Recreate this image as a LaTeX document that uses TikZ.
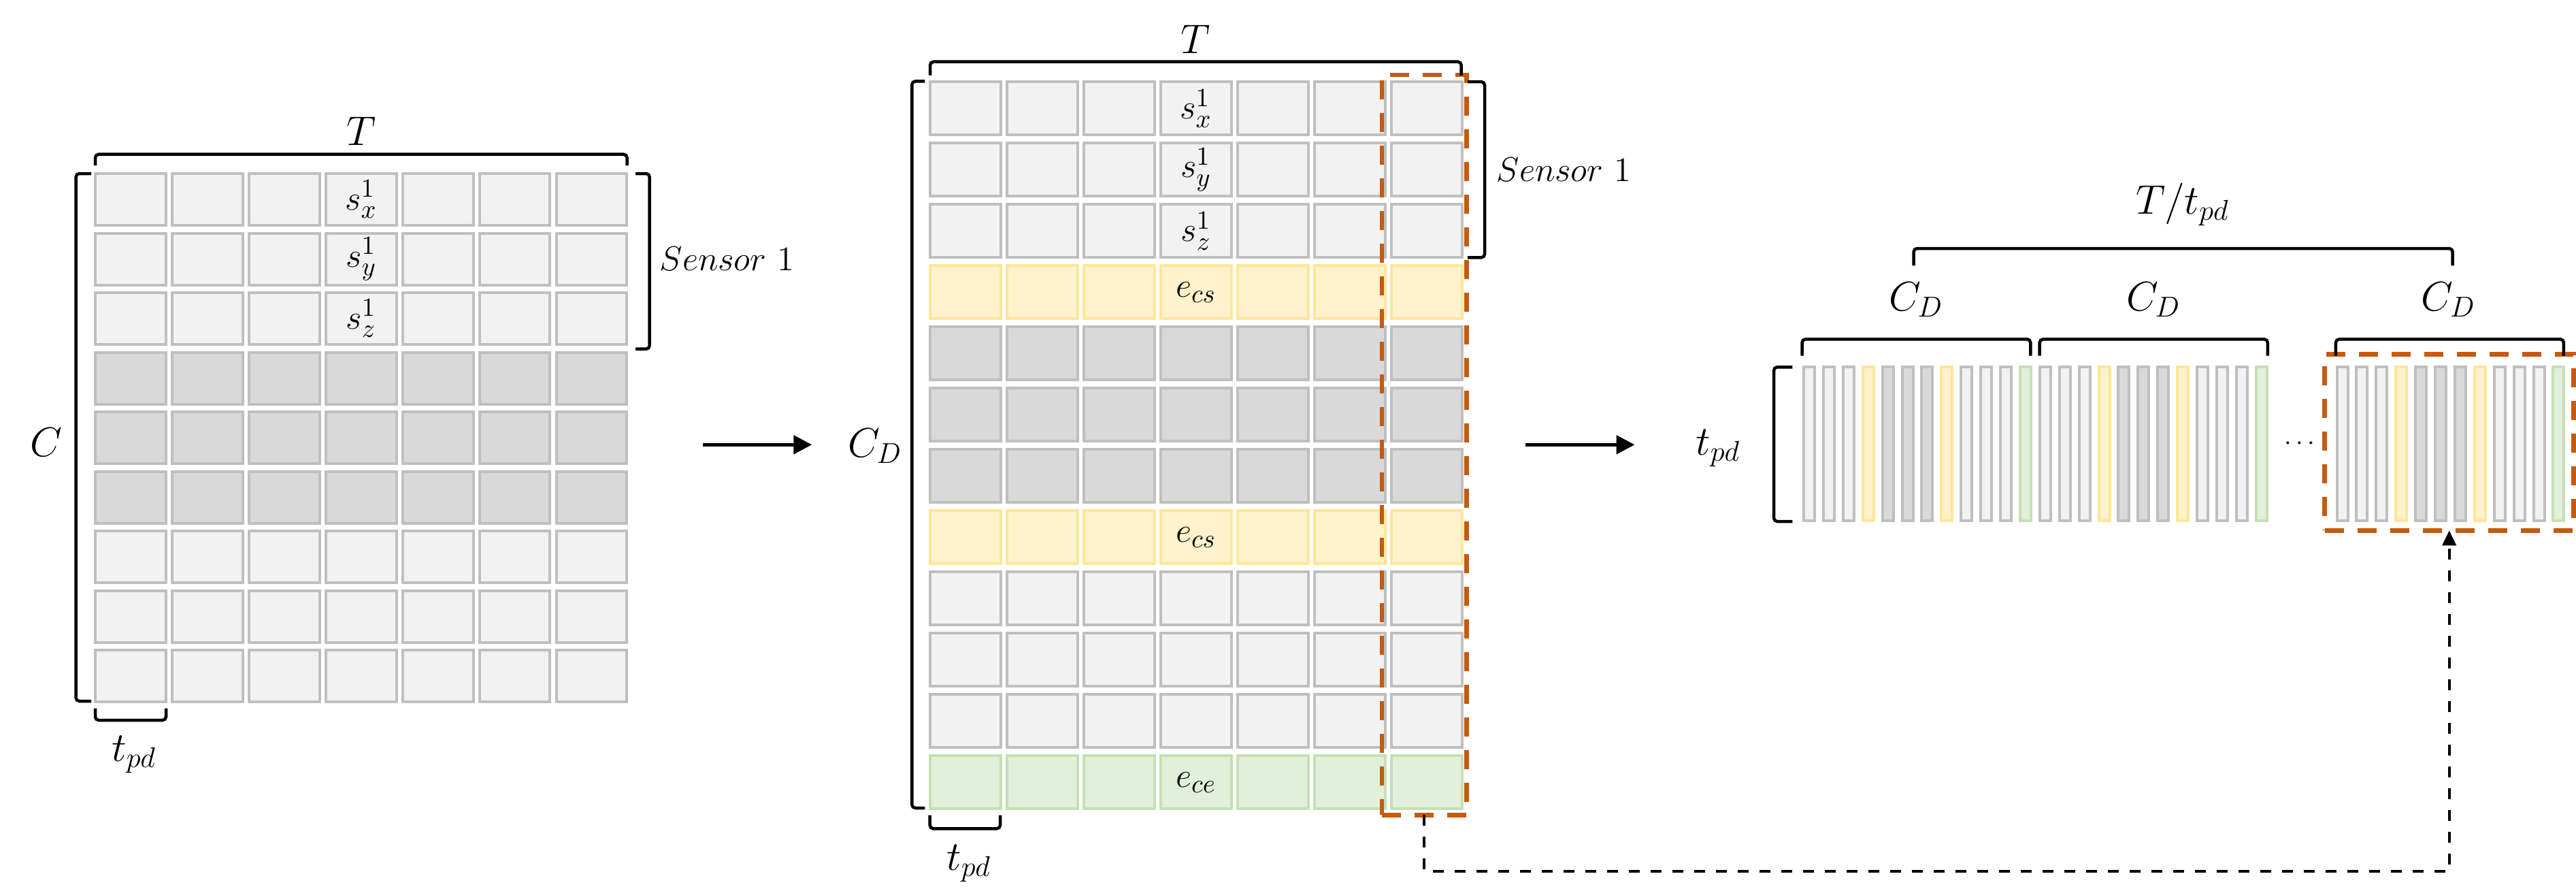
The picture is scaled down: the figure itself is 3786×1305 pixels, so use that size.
\documentclass[tikz,border=0pt]{standalone}
\usepackage{amsmath}
\usepackage{tikz}
\usetikzlibrary{arrows.meta}
\definecolor{edgegray}{HTML}{BFBFBF}
\definecolor{lightgray}{HTML}{F2F2F2}
\definecolor{darkgray}{HTML}{D9D9D9}
\definecolor{yelfill}{HTML}{FFF2CC}
\definecolor{yeledge}{HTML}{FFE699}
\definecolor{grnfill}{HTML}{E2EFDA}
\definecolor{grnedge}{HTML}{C5E0B4}
\definecolor{selorange}{HTML}{C55A11}
\tikzstyle{arrow} = [line width=0.53mm,-{Triangle[length=2.7mm,width=2.7mm]}]
\tikzstyle{link} = [line width=0.4mm,dash pattern=on 1.6mm off 1.6mm,-{Triangle[length=2.2mm,width=2mm]}]
\tikzstyle{brk} = [line width=0.45mm,rounded corners=0.5mm]
\tikzset{cell/.style={draw, line width=0.4mm, inner sep=0pt, outer sep=0pt},
  clight/.style={draw=edgegray, fill=lightgray},
  cdark/.style={draw=edgegray, fill=darkgray},
  cyel/.style={draw=yeledge, fill=yelfill},
  cgrn/.style={draw=grnedge, fill=grnfill},
  selbox/.style={draw=selorange, line width=0.65mm, dash pattern=on 2.8mm off 2mm, inner sep=0pt, outer sep=0pt},
  lbl/.style={font=\fontsize{17}{20}\selectfont, inner sep=0pt},
  sns/.style={font=\fontsize{13.5}{16}\selectfont, inner sep=0pt},
  val/.style={font=\fontsize{15}{18}\selectfont, inner sep=0pt}}

\begin{document}
\begin{tikzpicture}[x=0.1mm,y=-0.1mm]
\useasboundingbox (0,0) rectangle (3786,1305);

% C x T input
\foreach \r/\k in {1/clight,2/clight,3/clight,4/cdark,5/cdark,6/cdark,7/clight,8/clight,9/clight}
  \foreach \c in {1,...,7}
    \node[cell,\k,minimum width=10.35mm,minimum height=7.6mm] (L-\r-\c) at ({192.2+112.9*(\c-1)},{293+87.5*(\r-1)}) {};
\node[val] at (L-1-4) {$s_x^1$};
\node[val] at (L-2-4) {$s_y^1$};
\node[val] at (L-3-4) {$s_z^1$};

\draw[brk] (140,243) -- (140,226.7) -- (921.5,226.7) -- (921.5,243);
\draw[brk] (134,255) -- (111.6,255) -- (111.6,1030) -- (134,1030);
\draw[brk] (934,255) -- (954.7,255) -- (954.7,512.7) -- (934,512.7);
\draw[brk] (140,1040.7) -- (140,1058) -- (244,1058) -- (244,1040.7);
\node[lbl,anchor=base] (TL) at (530.7,213.3) {$T$};
\node[lbl,anchor=base] (CL) at (67.5,670) {$C$};
\node[sns,anchor=base west] (SL) at (969,397) {$Sensor\ 1$};
\node[lbl,anchor=base] (tL) at (197,1118) {$t_{pd}$};

\coordinate (a1s) at (1032.7,653.3);
\coordinate (a1e) at (1193.3,653.3);
\draw[arrow] (a1s) -- (a1e);

% C_D x T with extra channels
\foreach \r/\k in {1/clight,2/clight,3/clight,4/cyel,5/cdark,6/cdark,7/cdark,8/cyel,9/clight,10/clight,11/clight,12/cgrn}
  \foreach \c in {1,...,7}
    \node[cell,\k,minimum width=10.46mm,minimum height=7.8mm] (M-\r-\c) at ({1418.8+113*(\c-1)},{159.3+90*(\r-1)}) {};
\node[val] at (M-1-4) {$s_x^1$};
\node[val] at (M-2-4) {$s_y^1$};
\node[val] at (M-3-4) {$s_z^1$};
\node[val] at (M-4-4) {$e_{cs}$};
\node[val] at (M-8-4) {$e_{cs}$};
\node[val] at (M-12-4) {$e_{ce}$};
\node[selbox,minimum width=12.45mm,minimum height=108.73mm] (colbox) at (2093.3,653.7) {};

\draw[brk] (1367,110.7) -- (1367,90.7) -- (2147.7,90.7) -- (2147.7,110.7);
\draw[brk] (1359.4,119.3) -- (1340.3,119.3) -- (1340.3,1187) -- (1359.4,1187);
\draw[brk] (2157,120) -- (2182,120) -- (2182,378.3) -- (2157,378.3);
\draw[brk] (1366.7,1197.7) -- (1366.7,1217.3) -- (1470,1217.3) -- (1470,1197.7);
\node[lbl,anchor=base] (TM) at (1757,78) {$T$};
\node[lbl,anchor=base] (CM) at (1286,671.7) {$C_D$};
\node[sns,anchor=base west] (SM) at (2199,266) {$Sensor\ 1$};
\node[lbl,anchor=base] (tM) at (1424,1278) {$t_{pd}$};

\coordinate (a2s) at (2241.8,653.3);
\coordinate (a2e) at (2402.6,653.3);
\draw[arrow] (a2s) -- (a2e);

% flattened sequence
\foreach \g/\s in {1/2649,2/2995.8,3/3432.5}
  \foreach \k/\t in {1/clight,2/clight,3/clight,4/cyel,5/cdark,6/cdark,7/cdark,8/cyel,9/clight,10/clight,11/clight,12/cgrn}
    \node[cell,\t,minimum width=1.6mm,minimum height=22.66mm] (S-\g-\k) at ({\s+10+28.9*(\k-1)},652) {};
\node[selbox,minimum width=36.6mm,minimum height=25.86mm] (grpbox) at (3599.7,650) {};
\node[font=\fontsize{11}{13}\selectfont,inner sep=0pt] (dots) at (3383,652) {$\cdots$};

\draw[brk] (2634.4,539.3) -- (2607,539.3) -- (2607,766) -- (2634.4,766);
\foreach \a/\b in {2648.5/2984.3,2997.7/3332.8,3432.9/3767.9}
  \draw[brk] (\a,522.7) -- (\a,498.3) -- (\b,498.3) -- (\b,522.7);
\draw[brk] (2812.5,390) -- (2812.5,365) -- (3604.7,365) -- (3604.7,390);
\node[lbl,anchor=base] (tR) at (2525,668) {$t_{pd}$};
\node[lbl,anchor=base] (CR1) at (2816,456.7) {$C_D$};
\node[lbl,anchor=base] (CR2) at (3165,456.7) {$C_D$};
\node[lbl,anchor=base] (CR3) at (3598.5,456.7) {$C_D$};
\node[lbl,anchor=base] (TR) at (3208,314) {$T/t_{pd}$};

\draw[link] (colbox.south) -- ++(0,83) -| (grpbox.south);
\end{tikzpicture}
\end{document}
